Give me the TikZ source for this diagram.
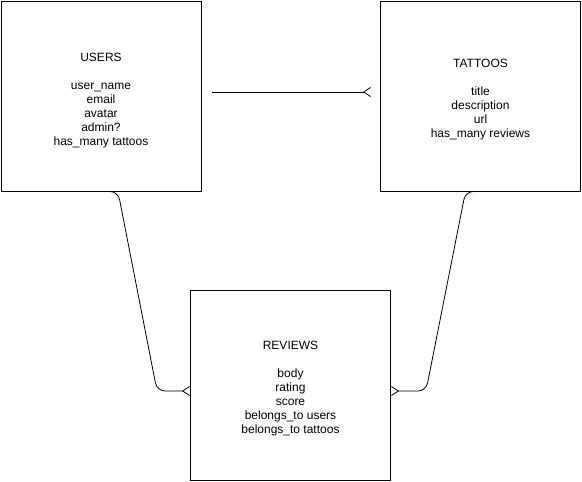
\documentclass[tikz,border=0pt]{standalone}
\usepackage{fontspec}
\setmainfont{Liberation Sans}
\usetikzlibrary{arrows.meta}
\tikzset{
  entity/.style={draw,line width=1pt,minimum width=200pt,minimum height=190pt,inner sep=0pt},
  fields/.style={align=center,font=\fontsize{12pt}{14pt}\selectfont,inner sep=0pt},
  crow/.style={-{Straight Barb[reversed,length=7pt,width=9pt,line width=0.8pt]},line width=0.8pt}
}
\begin{document}
\begin{tikzpicture}[x=1pt,y=-1pt]
        \useasboundingbox (0,0) rectangle (582,482);
        \node[entity,label={[fields,yshift=-5pt]center:{USERS\\[14pt]user\_name\\email\\avatar\\admin?\\has\_many tattoos}}] (users) at (101,96) {};
        \node[entity,label={[fields,yshift=-4pt]center:{TATTOOS\\[14pt]title\\description\\url\\has\_many reviews}}] (tattoos) at (480.5,96) {};
        \node[entity,label={[fields,yshift=-3pt]center:{REVIEWS\\[14pt]body\\rating\\score\\belongs\_to users\\belongs\_to tattoos}}] (reviews) at (290.5,385.5) {};
        \coordinate (ut1) at ([shift={(10,-4)}]users.east);
        \coordinate (ut2) at ([shift={(-9,-4)}]tattoos.west);
        \draw[crow] (ut1) -- (ut2);
        \draw[crow,rounded corners=8pt] ([xshift=11]users.south) -- ([xshift=17]users.south) -- ([xshift=-33,yshift=-5.5]reviews.west) -- ([yshift=-5.5]reviews.west);
        \draw[crow,rounded corners=8pt] ([xshift=-9]tattoos.south) -- ([xshift=-15]tattoos.south) -- ([xshift=35,yshift=-5.5]reviews.east) -- ([yshift=-5.5]reviews.east);
\end{tikzpicture}
\end{document}
